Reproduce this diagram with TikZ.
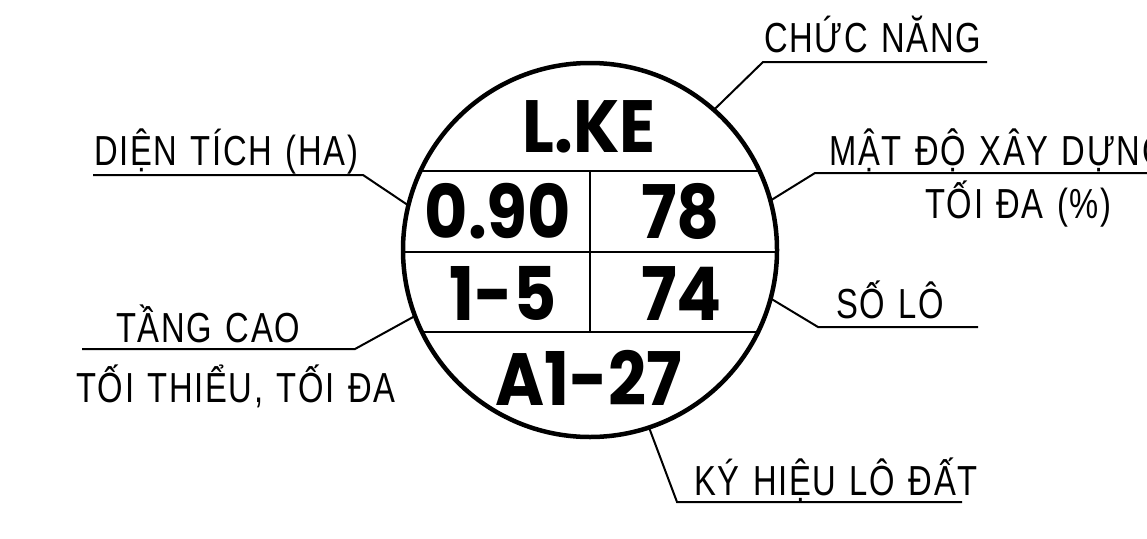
\documentclass[tikz,border=0pt]{standalone}
\usepackage{fontspec}
\usetikzlibrary{calc}
\newfontfamily\labfont[FakeStretch=0.78,LetterSpace=4,WordSpace=1.25]{Liberation Sans}
\newfontfamily\bigfont[FakeStretch=0.9]{Poppins Bold}
\begin{document}
\begin{tikzpicture}[x=1pt,y=-1pt,
  lab/.style={inner sep=0pt,anchor=base west,font=\labfont\fontsize{42}{42}\selectfont},
  big/.style={inner sep=0pt,anchor=base,font=\bigfont\fontsize{74}{74}\selectfont},
  leader/.style={line width=2pt},
  ring/.style={line width=4.5pt},
  grid/.style={line width=2pt}]
\useasboundingbox (0,0) rectangle (1147,538);
\clip (0,0) rectangle (1147,538);
\fill[white] (0,0) rectangle (1147,538);
% circle
\coordinate (c) at (590,250);
\begin{scope}
  \clip (c) circle (187);
  \draw[grid] (380,171) -- (800,171);
  \draw[grid] (380,252) -- (800,252);
  \draw[grid] (380,332) -- (800,332);
\end{scope}
\draw[grid] (590,171) -- (590,332);
\draw[ring] (c) circle (187);
% big texts
\node[big] (fn) at (589,152) {L.KE};
\node[big] (dt) at (498,238) {0.90};
\node[big] (md) at (680.5,238) {78};
\node[big] (tc) at (503,320) {1-5};
\node[big] (sl) at (681.5,320) {74};
\node[big] (kh) at (589,405) {A1-27};
% leader points on circle (y axis points down, so angles are negated)
\coordinate (p1) at ($(c)+(-48.5:188)$);
\coordinate (p2) at ($(c)+(-15.4:188)$);
\coordinate (p3) at ($(c)+(15.1:188)$);
\coordinate (p4) at ($(c)+(71.6:188)$);
\coordinate (p5) at ($(c)+(-166.1:188)$);
\coordinate (p6) at ($(c)+(-200.7:188)$);
% underline ends
\coordinate (u1a) at (763,62);  \coordinate (u1b) at (987,62);
\coordinate (u2a) at (815,173); \coordinate (u2b) at (1160,173);
\coordinate (u3a) at (818,327); \coordinate (u3b) at (978,327);
\coordinate (u4a) at (677,502); \coordinate (u4b) at (962,502);
\coordinate (u5a) at (363,175); \coordinate (u5b) at (93,175);
\coordinate (u6a) at (355,349); \coordinate (u6b) at (82,349);
\draw[leader] (p1) -- (u1a) -- (u1b);
\draw[leader] (p2) -- (u2a) -- (u2b);
\draw[leader] (p3) -- (u3a) -- (u3b);
\draw[leader] (p4) -- (u4a) -- (u4b);
\draw[leader] (p5) -- (u5a) -- (u5b);
\draw[leader] (p6) -- (u6a) -- (u6b);
% labels
\node[lab] (l1) at (764,52) {CHỨC NĂNG};
\node[lab] (l2) at (829,165) {MẬT ĐỘ XÂY DỰNG};
\node[lab] (l2b) at (925,218) {TỐI ĐA (\%)};
\node[lab] (l3) at (836,318) {SỐ LÔ};
\node[lab] (l4) at (694,495) {KÝ HIỆU LÔ ĐẤT};
\node[lab] (l5) at (94,165) {DIỆN TÍCH (HA)};
\node[lab] (l6) at (116,342) {TẦNG CAO};
\node[lab] (l6b) at (76,402) {TỐI THIỂU, TỐI ĐA};
\end{tikzpicture}
\end{document}
